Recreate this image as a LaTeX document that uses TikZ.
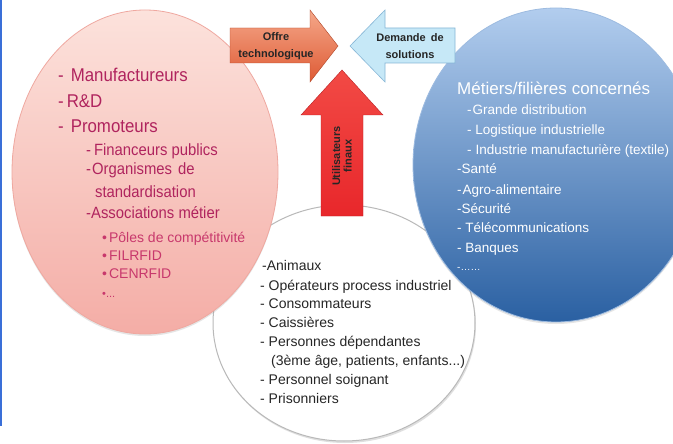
\documentclass[tikz,border=0pt]{standalone}
\usepackage{fontspec}
\setmainfont{Liberation Sans}
\newfontfamily\narrowfont[FakeStretch=0.91]{Liberation Sans}
\usetikzlibrary{shapes.geometric,shadows}
\definecolor{edgeblue}{HTML}{3A6FD8}
\definecolor{pinktop}{HTML}{FCE2DC}
\definecolor{pinkbot}{HTML}{F4ADA6}
\definecolor{pinkedge}{HTML}{EFA8A0}
\definecolor{pinktxt}{HTML}{B0245E}
\definecolor{pinktxtb}{HTML}{C8386C}
\definecolor{bluetop}{HTML}{B2CDEE}
\definecolor{bluebot}{HTML}{2A60A2}
\definecolor{blueedge}{HTML}{9DBBE0}
\definecolor{offretop}{HTML}{F5A88A}
\definecolor{offrebot}{HTML}{DE5A34}
\definecolor{demfill}{HTML}{C6E8F7}
\definecolor{demedge}{HTML}{86B6D6}
\definecolor{redtop}{HTML}{F24A45}
\definecolor{redbot}{HTML}{E8272B}
\definecolor{usertxt}{HTML}{262626}
\tikzset{
  pinkbig/.style={anchor=base west, inner sep=0pt, text=pinktxt, font=\narrowfont\fontsize{18.5}{20}\selectfont},
  pinkmid/.style={anchor=base west, inner sep=0pt, text=pinktxt, font=\narrowfont\fontsize{16.3}{18}\selectfont},
  pinksmall/.style={anchor=base west, inner sep=0pt, text=pinktxtb, font=\fontsize{14}{17}\selectfont},
  bluetitle/.style={anchor=base west, inner sep=0pt, text=white, font=\fontsize{17}{20}\selectfont},
  blueitem/.style={anchor=base west, inner sep=0pt, text=white, font=\fontsize{13.5}{17}\selectfont},
  useritem/.style={anchor=base west, inner sep=0pt, text=usertxt, font=\fontsize{14}{17}\selectfont},
  arrowtxt/.style={align=center, inner sep=0pt, text=black!85, font=\bfseries\fontsize{11}{16.5}\selectfont},
}
\begin{document}
\begin{tikzpicture}[x=1pt,y=-1pt]
\useasboundingbox (0,0) rectangle (673,444);
\fill[white] (0,0) rectangle (673,444);
\fill[edgeblue] (0,0) rectangle (2,426);

% circles
\node[ellipse, minimum width=262pt, minimum height=236pt, fill=white, draw=gray!55, line width=1pt,
  drop shadow={opacity=0.25, shadow xshift=1pt, shadow yshift=-2pt}] (users) at (344,323) {};
\node[ellipse, minimum width=266pt, minimum height=324pt, top color=pinktop, bottom color=pinkbot,
  draw=pinkedge, line width=0.8pt, drop shadow={opacity=0.2, shadow xshift=0pt, shadow yshift=-2pt}] (actors) at (145,172) {};
\node[ellipse, minimum width=286pt, minimum height=314pt, top color=bluetop, bottom color=bluebot,
  draw=blueedge, line width=0.8pt, drop shadow={opacity=0.2, shadow xshift=0pt, shadow yshift=-2pt}] (sectors) at (556,165) {};

% arrows
\draw[draw=offrebot!80!black, line width=0.4pt, top color=offretop, bottom color=offrebot]
  (230,28) -- (310,28) -- (310,10) -- (338,46) -- (310,82) -- (310,63) -- (230,63) -- cycle;
\draw[draw=demedge, line width=0.6pt, fill=demfill]
  (455,28) -- (385,28) -- (385,10) -- (350,46) -- (385,82) -- (385,63) -- (455,63) -- cycle;
\draw[draw=redbot!80!black, line width=0.4pt, top color=redtop, bottom color=redbot]
  (321,216) -- (321,115) -- (301,115) -- (342,70) -- (383,115) -- (363,115) -- (363,216) -- cycle;

\node[arrowtxt] (offre) at (276,46) {Offre\\technologique};
\node[arrowtxt] (demande) at (410,46) {Demande\hspace{5pt}de\\solutions};
\node[arrowtxt, rotate=90, font=\bfseries\fontsize{11}{11.5}\selectfont] (utilisateurs) at (342,156) {Utilisateurs\\finaux};

% pink list
\node[pinkbig] (p1) at (58,82) {-\hspace{7pt}Manufactureurs};
\node[pinkbig] (p2) at (58,107) {-\hspace{3pt}R\&D};
\node[pinkbig] (p3) at (58,132) {-\hspace{7pt}Promoteurs};
\node[pinkmid] (p4) at (86,155) {-\hspace{3pt}Financeurs publics};
\node[pinkmid] (p5) at (86,175) {-\hspace{1pt}Organismes\hspace{6pt}de};
\node[pinkmid] (p6) at (95,197) {standardisation};
\node[pinkmid] (p7) at (86,218) {-Associations métier};
\node[pinksmall] (p8) at (102,242) {•\hspace{2pt}Pôles de compétitivité};
\node[pinksmall] (p9) at (102,260) {•\hspace{2pt}FILRFID};
\node[pinksmall] (p10) at (102,278) {•\hspace{2pt}CENRFID};
\node[pinksmall] (p11) at (102,297) {\fontsize{11}{13}\selectfont•...};

% blue list
\node[bluetitle] (b0) at (457,95) {Métiers/filières\hspace{5pt}concernés};
\node[blueitem] (b1) at (467,115) {-\hspace{1pt}Grande distribution};
\node[blueitem] (b2) at (467,135) {- Logistique industrielle};
\node[blueitem] (b3) at (467,154) {-\hspace{4pt}Industrie manufacturière (textile)};
\node[blueitem] (b4) at (457,173) {-Santé};
\node[blueitem] (b5) at (457,194) {-\hspace{1pt}Agro-alimentaire};
\node[blueitem] (b6) at (457,213) {-Sécurité};
\node[blueitem] (b7) at (457,233) {- Télécommunications};
\node[blueitem] (b8) at (457,252) {- Banques};
\node[blueitem] (b9) at (457,270) {\fontsize{10}{12}\selectfont-……};

% white list
\node[useritem] (u1) at (262,270) {-Animaux};
\node[useritem] (u2) at (260,290) {- Opérateurs process industriel};
\node[useritem] (u3) at (260,308) {- Consommateurs};
\node[useritem] (u4) at (260,327) {- Caissières};
\node[useritem] (u5) at (260,346) {- Personnes dépendantes};
\node[useritem] (u6) at (271,365) {(3ème âge, patients, enfants...)};
\node[useritem] (u7) at (260,384) {- Personnel soignant};
\node[useritem] (u8) at (260,403) {- Prisonniers};
\end{tikzpicture}
\end{document}
